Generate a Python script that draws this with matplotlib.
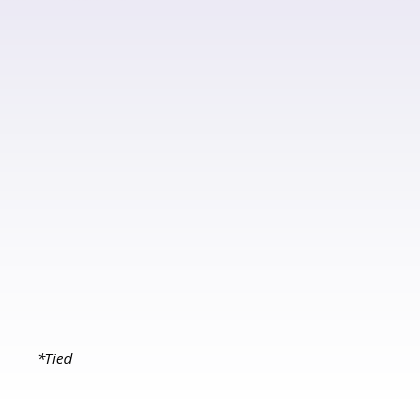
import numpy as np
import matplotlib
matplotlib.use("Agg")
import matplotlib.pyplot as plt
from matplotlib.colors import LinearSegmentedColormap

# The chart has no plotted data; only a footnote remains.
categories = []
values = []
footnote = "*Tied"

fig = plt.figure(figsize=(4.2, 4.0), dpi=100)
bg = fig.add_axes([0, 0, 1, 1])
cmap = LinearSegmentedColormap.from_list("bg", ["#ECEAF5", "#F3F3F8", "#FAFAFC", "#FFFFFF"])
grad = np.linspace(0, 1, 256).reshape(-1, 1)
bg.imshow(grad, aspect="auto", cmap=cmap, extent=[0, 1, 0, 1], origin="upper")
bg.set_xlim(0, 1)
bg.set_ylim(0, 1)
bg.axis("off")

fig.text(36 / 420, 1 - 360 / 400, footnote, fontsize=11, style="italic",
         family="Open Sans", color="#000000", ha="left", va="center")

fig.savefig("out.png", dpi=100)
